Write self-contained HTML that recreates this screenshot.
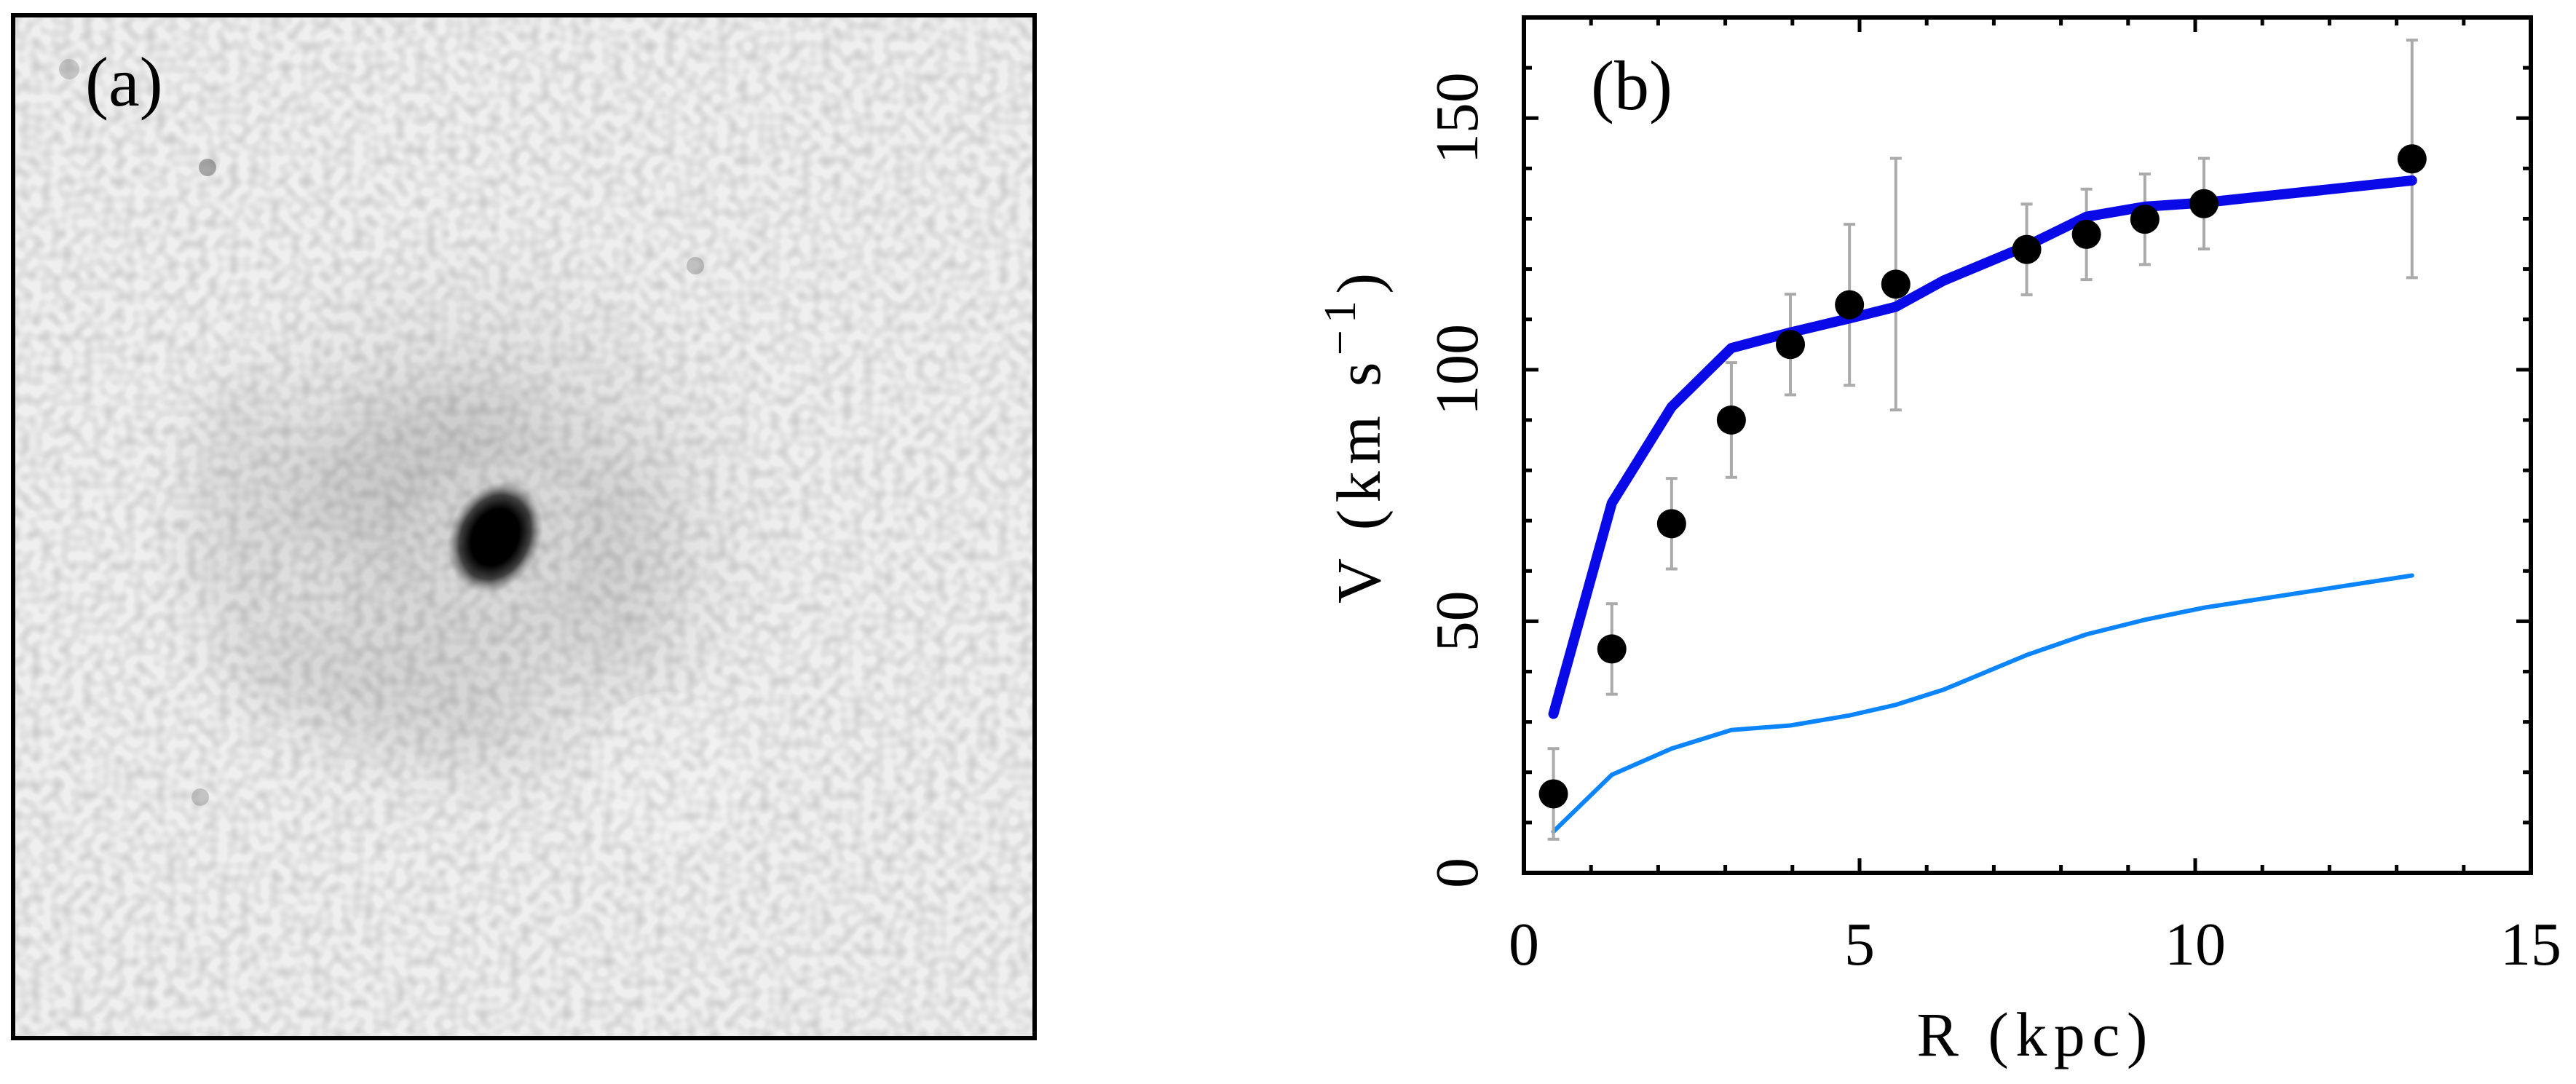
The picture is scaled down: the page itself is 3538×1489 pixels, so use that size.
<!DOCTYPE html>
<html><head><meta charset="utf-8"><style>
html,body{margin:0;padding:0;background:#fff;}
svg{display:block;}
text{font-family:"Liberation Serif",serif;fill:#000;}
</style></head><body>
<svg id="fig" width="3538" height="1489" viewBox="0 0 3538 1489" xmlns="http://www.w3.org/2000/svg">
<defs>
<filter id="grain" x="0" y="0" width="100%" height="100%">
<feTurbulence type="fractalNoise" baseFrequency="0.07" numOctaves="1" seed="4" result="n"/>
<feColorMatrix in="n" type="matrix" values="0 0 0 0 0  0 0 0 0 0  0 0 0 0 0  0 0 0 -0.6 0.38" result="a"/>
<feComposite in="a" in2="SourceGraphic" operator="in"/>
</filter>
<filter id="blur"><feGaussianBlur stdDeviation="35"/></filter>
<radialGradient id="disk" cx="0.5" cy="0.5" r="0.5">
<stop offset="0" stop-color="#bdbdbd" stop-opacity="1"/>
<stop offset="0.4" stop-color="#d2d2d2" stop-opacity="0.9"/>
<stop offset="0.75" stop-color="#e2e2e2" stop-opacity="0.5"/>
<stop offset="1" stop-color="#efefef" stop-opacity="0"/>
</radialGradient>
<radialGradient id="core" cx="0.5" cy="0.5" r="0.5">
<stop offset="0" stop-color="#000"/>
<stop offset="0.5" stop-color="#000"/>
<stop offset="0.75" stop-color="#444"/>
<stop offset="1" stop-color="#888" stop-opacity="0"/>
</radialGradient>
</defs>

<!-- Panel (a): galaxy image -->
<g>
<rect x="18" y="21" width="1403" height="1405" fill="#efefef"/>
<ellipse cx="650" cy="730" rx="480" ry="460" fill="url(#disk)" opacity="0.75"/>
<g filter="url(#blur)" opacity="0.35">
<ellipse cx="560" cy="640" rx="170" ry="90" fill="#b5b5b5" transform="rotate(-20 560 640)"/>
<ellipse cx="520" cy="950" rx="220" ry="70" fill="#bcbcbc" transform="rotate(15 520 950)"/>
<ellipse cx="330" cy="700" rx="70" ry="180" fill="#c5c5c5"/>
<ellipse cx="850" cy="780" rx="80" ry="150" fill="#c0c0c0"/>
</g>
<ellipse cx="680" cy="735" rx="130" ry="120" fill="url(#disk)" opacity="0.8"/>
<ellipse cx="680" cy="738" rx="62" ry="80" transform="rotate(25 680 738)" fill="url(#core)"/>
<circle cx="285" cy="230" r="12" fill="#aaa"/>
<circle cx="95" cy="95" r="14" fill="#c8c8c8"/>
<circle cx="955" cy="365" r="12" fill="#c0c0c0"/>
<circle cx="275" cy="1095" r="12" fill="#c4c4c4"/>
<circle cx="915" cy="1060" r="110" fill="#f4f4f4" opacity="0.4"/>
<rect x="18" y="21" width="1403" height="1405" fill="#ffffff" filter="url(#grain)" opacity="0.5"/>
<rect x="18" y="21" width="1403" height="1405" fill="none" stroke="#000" stroke-width="6"/>
<text x="117" y="145" font-size="96">(a)</text>
</g>

<!-- Panel (b): rotation curve -->
<g id="chart"></g>

<script>
const radiusKpc = [0.44, 1.31, 2.20, 3.09, 3.97, 4.85, 5.54, 7.49, 8.38, 9.25, 10.13, 13.23];
const velocityObs = [15.7, 44.5, 69.4, 90.0, 105.0, 112.9, 117.0, 123.9, 126.9, 129.9, 133.0, 141.9];
const velocityErr = [9, 9, 9, 11.4, 10, 16, 25, 9, 9, 9, 9, 23.6];
const modelR = [0.44, 1.31, 2.20, 3.09, 3.97, 4.85, 5.54, 6.25, 7.49, 8.38, 9.25, 10.13, 13.23];
const modelTotal = [31.6, 73.5, 92.6, 104.3, 107.4, 110.2, 112.5, 117.7, 124.6, 130.4, 132.4, 133.2, 137.6];
const modelDisk = [8.2, 19.5, 24.7, 28.4, 29.3, 31.3, 33.4, 36.4, 43.3, 47.4, 50.3, 52.7, 59.1];
const xTicks = [0, 5, 10, 15];
const yTicks = [0, 50, 100, 150];

const NS = "http://www.w3.org/2000/svg";
const L = 2093, R = 3476, T = 24, B = 1199;
const xMin = 0, xMax = 15, yMin = 0, yMax = 170;
const sx = v => L + (v - xMin) / (xMax - xMin) * (R - L);
const sy = v => B - (v - yMin) / (yMax - yMin) * (B - T);
const g = document.getElementById('chart');
function mk(tag, attrs, parent) {
  const e = document.createElementNS(NS, tag);
  for (const k in attrs) e.setAttribute(k, attrs[k]);
  (parent || g).appendChild(e);
  return e;
}

// ticks
const tg = mk('g', {});


for (let v = xMin; v <= xMax; v += 1) {
  const len = v % 5 === 0 ? 20 : 11;
  mk('line', {x1: sx(v), x2: sx(v), y1: B, y2: B - len, stroke: '#000', 'stroke-width': 5}, tg);
  mk('line', {x1: sx(v), x2: sx(v), y1: T, y2: T + len, stroke: '#000', 'stroke-width': 5}, tg);
}
for (let v = yMin; v <= yMax; v += 10) {
  const len = v % 50 === 0 ? 20 : 11;
  mk('line', {x1: L, x2: L + len, y1: sy(v), y2: sy(v), stroke: '#000', 'stroke-width': 5}, tg);
  mk('line', {x1: R, x2: R - len, y1: sy(v), y2: sy(v), stroke: '#000', 'stroke-width': 5}, tg);
}

// tick labels
xTicks.forEach(v => {
  const t = mk('text', {x: sx(v), y: 1325, 'font-size': 84, 'text-anchor': 'middle'});
  
  
  t.textContent = v;
});
yTicks.forEach(v => {
  const t = mk('text', {x: 0, y: 0, 'font-size': 84, 'text-anchor': 'middle', transform: `translate(2029 ${sy(v)}) rotate(-90)`});
  
  
  t.textContent = v;
});

// axis titles
const xt = mk('text', {x: 2791, y: 1450, 'font-size': 86, 'text-anchor': 'middle', textLength: 317, lengthAdjust: 'spacing'});


xt.textContent = 'R (kpc)';
const yt = mk('text', {x: 0, y: 0, 'font-size': 86, 'text-anchor': 'middle', transform: 'translate(1895 602) rotate(-90)'});


const yt1 = mk('tspan', {}, yt); yt1.textContent = 'V (km s';
const yt2 = mk('tspan', {dy: -34, 'font-size': 62}, yt); yt2.textContent = '\u22121';
const yt3 = mk('tspan', {dy: 34}, yt); yt3.textContent = ')';
yt.setAttribute('textLength', 454);
yt.setAttribute('lengthAdjust', 'spacing');

// disk model line
const diskPts = modelR.map((r, i) => sx(r) + ',' + sy(modelDisk[i])).join(' ');
const dl = mk('polyline', {points: diskPts, fill: 'none', stroke: '#0a84ff', 'stroke-width': 6, 'stroke-linejoin': 'round', 'stroke-linecap': 'round'});



// error bars
radiusKpc.forEach((r, i) => {
  const x = sx(r), y1 = sy(velocityObs[i] - velocityErr[i]), y2 = sy(velocityObs[i] + velocityErr[i]);
  const eg = mk('g', {stroke: '#aaaaaa', 'stroke-width': 4});
  
  
  mk('line', {x1: x, x2: x, y1: y1, y2: y2}, eg);
  mk('line', {x1: x - 8, x2: x + 8, y1: y1, y2: y1}, eg);
  mk('line', {x1: x - 8, x2: x + 8, y1: y2, y2: y2}, eg);
});

// total model line
const totPts = modelR.map((r, i) => sx(r) + ',' + sy(modelTotal[i])).join(' ');
const tl = mk('polyline', {points: totPts, fill: 'none', stroke: '#0a0ae8', 'stroke-width': 14, 'stroke-linejoin': 'round', 'stroke-linecap': 'round'});



// data points
radiusKpc.forEach((r, i) => {
  const c = mk('circle', {cx: sx(r), cy: sy(velocityObs[i]), r: 20, fill: '#000'});
  
  
});

// frame
const fr = mk('rect', {x: L, y: T, width: R - L, height: B - T, fill: 'none', stroke: '#000', 'stroke-width': 6});



const pb = mk('text', {x: 2185, y: 150, 'font-size': 96});


pb.textContent = '(b)';
</script>
</svg>
</body></html>
